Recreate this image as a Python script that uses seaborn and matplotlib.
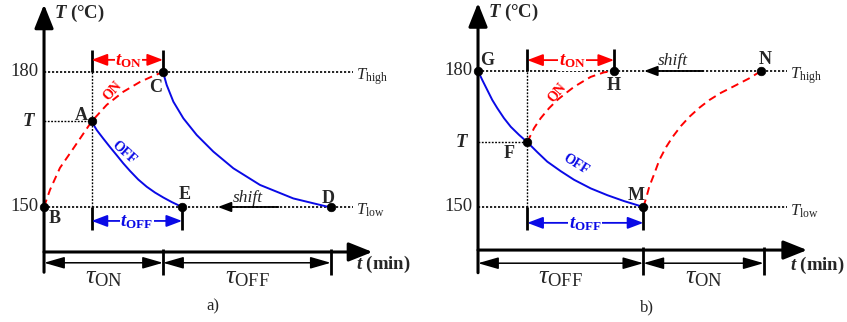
import matplotlib
matplotlib.use('Agg')
import matplotlib.pyplot as plt
import seaborn as sns

# levels (degC)
T_LOW = 150
T_HIGH = 180

# ---- panel a) : heating B->A (ON), then cooling A->E (OFF); C->D is the full OFF curve
a_on_t = [0.0, 0.5, 1.34, 2.46, 4.0, 5.27, 6.66, 8.07, 9.33, 10.0]
a_on_T = [150.0, 153.8, 158.7, 163.0, 169.0, 172.7, 175.6, 177.8, 179.3, 180.0]
a_off1_t = [4.0, 4.43, 4.98, 5.55, 6.11, 6.66, 7.23, 7.92, 8.63, 9.33, 10.03, 10.73, 11.6]
a_off1_T = [169.0, 167.1, 165.2, 163.3, 161.5, 159.7, 158.0, 156.1, 154.5, 153.2, 152.1, 151.1, 150.0]
a_off2_t = [10.0, 10.31, 10.87, 11.71, 12.83, 14.23, 15.91, 18.15, 20.95, 23.76, 24.1]
a_off2_T = [180.0, 177.1, 173.4, 169.7, 166.0, 162.3, 158.6, 154.9, 151.9, 150.1, 150.0]
a_names = ['A', 'B', 'C', 'D', 'E']
a_pt_t = [4.0, 0.0, 10.0, 24.1, 11.6]
a_pt_T = [169.0, 150.0, 180.0, 150.0, 150.0]
a_tau = [0.0, 10.0, 24.1]          # tau_ON | tau_OFF
a_tau_lbl = [r'$\tau_{\mathrm{ON}}$', r'$\tau_{\mathrm{OFF}}$']

# ---- panel b) : cooling G->F (OFF), heating F->H (ON); M->N is the full ON curve
b_off_t = [0.0, 0.36, 0.78, 1.20, 1.62, 2.18, 2.75, 3.45, 4.14, 4.98, 5.82, 6.95, 8.07,
           9.47, 10.87, 12.27, 13.89]
b_off_T = [180.0, 178.0, 175.8, 173.6, 171.8, 169.6, 167.7, 165.9, 164.3, 162.1, 160.0, 157.9,
           156.0, 154.1, 152.6, 151.3, 150.0]
b_on1_t = [4.14, 4.71, 5.27, 5.97, 6.66, 7.37, 8.07, 8.76, 9.47, 10.59, 11.43]
b_on1_T = [164.3, 167.4, 169.6, 171.8, 173.6, 175.1, 176.5, 177.6, 178.7, 179.7, 180.0]
b_on2_t = [13.89, 14.12, 14.39, 14.82, 15.24, 15.80, 16.36, 17.06, 17.76, 18.60, 19.44, 20.42,
           21.40, 22.80, 23.78]
b_on2_T = [150.0, 151.9, 154.5, 157.4, 160.4, 163.2, 165.5, 167.9, 169.9, 171.9, 173.6, 175.2,
           176.5, 178.4, 180.0]
b_names = ['F', 'G', 'H', 'M', 'N']
b_pt_t = [4.14, 0.0, 11.43, 13.89, 23.78]
b_pt_T = [164.3, 180.0, 180.0, 150.0, 180.0]
b_tau = [0.0, 13.89, 24.0]         # tau_OFF | tau_ON
b_tau_lbl = [r'$\tau_{\mathrm{OFF}}$', r'$\tau_{\mathrm{ON}}$']

RED = '#ff0000'
BLUE = '#0a0ae6'

sns.set_style('white')
plt.rcParams['font.family'] = 'serif'
plt.rcParams['font.serif'] = ['Liberation Serif', 'DejaVu Serif']
plt.rcParams['mathtext.fontset'] = 'custom'
plt.rcParams['mathtext.rm'] = 'Liberation Serif'
plt.rcParams['mathtext.it'] = 'Liberation Serif:italic'
plt.rcParams['mathtext.bf'] = 'Liberation Serif:bold'
plt.rcParams['mathtext.sf'] = 'Liberation Serif:bold:italic'

DOT = (0, (1.3, 1.1))
DASH = (0, (4, 2.6))


def arrow(ax, x0, y0, x1, y1, color='k', lw=1.1, hl=1.2, hw=0.36, both=False):
  style = ('<|-|>' if both else '-|>') + f',head_length={hl},head_width={hw}'
  ax.annotate('', xy=(x1, y1), xytext=(x0, y0),
              arrowprops=dict(arrowstyle=style, color=color, lw=lw,
                              shrinkA=0, shrinkB=0, mutation_scale=10))


def curve(ax, t, T, color, ls):
  sns.lineplot(x=t, y=T, ax=ax, color=color, lw=1.4, linestyle=ls,
               sort=False, estimator=None)


def frame(ax, y0, ytop, xend, T_sw, x_sw, tau, tau_lbl, tlab, T_lab_x):
  ax.set_axis_off()
  # axes with arrow heads
  arrow(ax, 0, 135.5, 0, ytop, lw=2.2, hl=1.45, hw=0.58)
  arrow(ax, 0, y0, xend, y0, lw=2.2, hl=1.45, hw=0.58)
  # Thigh / Tlow
  for lvl in (T_HIGH, T_LOW):
    ax.plot([0, 26], [lvl, lvl], color='k', lw=1.2, ls=DOT)
    ax.text(-0.45, lvl, str(lvl), ha='right', va='center', fontsize=13.5)
  ax.text(26.25, T_HIGH - 1.75, r'$T_{\mathrm{high}}$', ha='left', va='baseline', fontsize=12)
  ax.text(26.25, T_LOW - 1.8, r'$T_{\mathrm{low}}$', ha='left', va='baseline', fontsize=12)
  # switching temperature T
  ax.plot([0, x_sw], [T_sw, T_sw], color='k', lw=1.0, ls=DOT)
  ax.plot([x_sw, x_sw], [T_LOW, T_HIGH], color='k', lw=1.0, ls=DOT)
  ax.text(T_lab_x, T_sw, r'$\mathsf{T}$', ha='center', va='center', fontsize=13.5)
  # axis titles
  ax.text(0.8, 193.0, r'$\mathsf{T}$ (°C)', ha='left', va='center', fontsize=13.5, fontweight='bold')
  ax.text(26.2, 137.2, r'$\mathsf{t}$ (min)', ha='left', va='center', fontsize=13.5, fontweight='bold')
  # tau intervals below the time axis
  for x in tau[1:]:
    ax.plot([x, x], [y0 + 0.6, 134.9], color='k', lw=2.0, solid_capstyle='butt')
  for i in range(2):
    arrow(ax, tau[i], 137.6, tau[i + 1], 137.6, lw=1.1, hl=1.25, hw=0.36, both=True)
    ax.text((tau[i] + tau[i + 1]) / 2, 134.3, tau_lbl[i], ha='center', va='center', fontsize=19)
  ax.text(14.2, 127.8, tlab, ha='center', va='center', fontsize=12)


def interval(ax, x0, x1, y, color, label, lx, top):
  # end bars, double arrow and label
  for x in (x0, x1):
    if top:
      ax.plot([x, x], [T_HIGH, 184.9], color='k', lw=2.0, solid_capstyle='butt')
    else:
      ax.plot([x, x], [T_LOW, 144.9], color='k', lw=2.0, solid_capstyle='butt')
  arrow(ax, x0, y, x1, y, color=color, lw=1.3, hl=0.95, hw=0.36, both=True)
  ax.text(lx, y - 0.3, label, ha='center', va='center', fontsize=13.5, color=color,
          bbox=dict(facecolor='white', edgecolor='none', pad=0.3))


def points(ax, t, T):
  sns.scatterplot(x=t, y=T, ax=ax, color='k', s=38, edgecolor='k', zorder=5, legend=False)


fig = plt.figure(figsize=(8.47, 3.22), dpi=100)
ax_a = fig.add_axes([0, 0, 0.5, 1])
ax_b = fig.add_axes([0.5, 0, 0.5, 1])

# panel a
ax_a.set_xlim(-3.70, 31.89)
ax_a.set_ylim(124.44, 196.0)
frame(ax_a, 140.0, 195.0, 27.6, a_pt_T[0], a_pt_t[0], a_tau, a_tau_lbl, 'a)', -1.26)
curve(ax_a, a_on_t, a_on_T, RED, DASH)
curve(ax_a, a_off1_t, a_off1_T, BLUE, '-')
curve(ax_a, a_off2_t, a_off2_T, BLUE, '-')
interval(ax_a, a_pt_t[0], a_pt_t[2], 182.7, RED, r'$\mathsf{t}_{\mathbf{ON}}$', 7.1, True)
interval(ax_a, a_pt_t[0], a_pt_t[4], 146.9, BLUE, r'$\mathsf{t}_{\mathbf{OFF}}$', 7.8, False)
arrow(ax_a, 19.7, T_LOW, 14.6, T_LOW, lw=1.3, hl=0.8, hw=0.3)
ax_a.text(17.1, 152.0, 'shift', ha='center', va='center', fontsize=12.5, style='italic')
ax_a.text(5.77, 175.8, 'ON', ha='center', va='center', fontsize=10, color=RED,
          fontweight='bold', rotation=48)
ax_a.text(6.72, 162.1, 'OFF', ha='center', va='center', fontsize=10, color=BLUE,
          fontweight='bold', rotation=-42)
points(ax_a, a_pt_t, a_pt_T)
for name, x, y in zip(a_names, [3.1, 0.92, 9.41, 23.9, 11.8], [170.4, 147.5, 176.6, 151.9, 152.7]):
  ax_a.text(x, y, name, ha='center', va='center', fontsize=13, fontweight='bold')

# panel b
ax_b.set_xlim(-4.58, 31.0)
ax_b.set_ylim(124.63, 195.66)
frame(ax_b, 140.5, 195.0, 27.65, b_pt_T[0], b_pt_t[0], b_tau, b_tau_lbl, 'b)', -1.37)
curve(ax_b, b_off_t, b_off_T, BLUE, '-')
curve(ax_b, b_on1_t, b_on1_T, RED, DASH)
curve(ax_b, b_on2_t, b_on2_T, RED, DASH)
interval(ax_b, b_pt_t[0], b_pt_t[2], 182.4, RED, r'$\mathsf{t}_{\mathbf{ON}}$', 7.9, True)
interval(ax_b, b_pt_t[0], b_pt_t[3], 146.5, BLUE, r'$\mathsf{t}_{\mathbf{OFF}}$', 9.0, False)
arrow(ax_b, 18.9, T_HIGH, 13.95, T_HIGH, lw=1.3, hl=0.8, hw=0.3)
ax_b.text(16.4, 182.1, 'shift', ha='center', va='center', fontsize=12.5, style='italic')
ax_b.text(6.66, 175.1, 'ON', ha='center', va='center', fontsize=10, color=RED,
          fontweight='bold', rotation=50)
ax_b.text(8.21, 159.3, 'OFF', ha='center', va='center', fontsize=10, color=BLUE,
          fontweight='bold', rotation=-32)
points(ax_b, b_pt_t, b_pt_T)
for name, x, y in zip(b_names, [2.63, 0.73, 11.43, 13.3, 24.1], [161.7, 182.4, 176.7, 152.6, 182.6]):
  ax_b.text(x, y, name, ha='center', va='center', fontsize=13, fontweight='bold')

fig.savefig('out.png', dpi=100)
